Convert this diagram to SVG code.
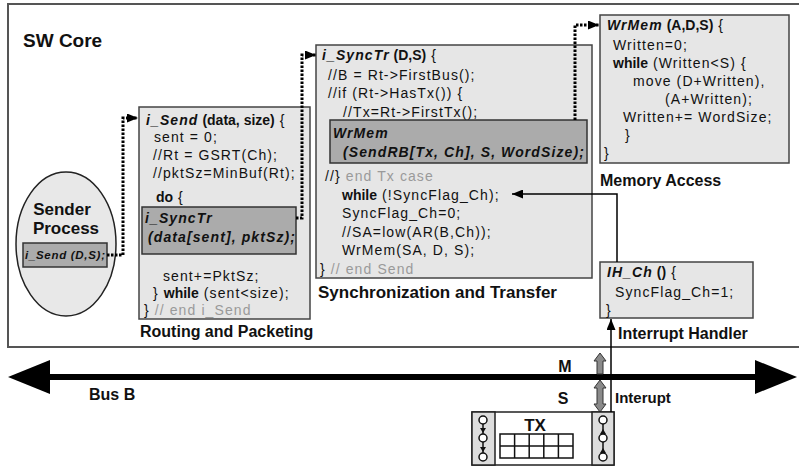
<svg xmlns="http://www.w3.org/2000/svg" width="799" height="468" viewBox="0 0 799 468">
<defs>
<style>
text{font-family:"Liberation Sans",Arial,sans-serif;fill:#111}
.code{font-size:14px;letter-spacing:1.1px}
.b{font-weight:bold}
.bi{font-weight:bold;font-style:italic}
.cm{fill:#9a9a9a}
.lbl{font-size:16px;font-weight:bold;letter-spacing:0}
.box{fill:#e6e6e6;stroke:#444;stroke-width:1.5}
.inner{fill:#ababab;stroke:#333;stroke-width:1.5}
.dot{fill:none;stroke:#000;stroke-width:3;stroke-dasharray:2.5 1.5}
.sol{fill:none;stroke:#000;stroke-width:1.5}
.garr{fill:#8a8a8a;stroke:#333;stroke-width:1}
.circ{fill:#fff;stroke:#111;stroke-width:1.5}
</style>
<marker id="ah" markerUnits="userSpaceOnUse" markerWidth="11" markerHeight="9" refX="11" refY="4.5" orient="auto">
<path d="M0,0 L11,4.5 L0,9 z" fill="#000"/>
</marker>
</defs>
<rect width="799" height="468" fill="#fff"/>

<g id="sw-core">
<rect x="8" y="4" width="800" height="343" fill="#fff" stroke="#555" stroke-width="2"/>
<text x="23" y="47" style="font-size:19px;font-weight:bold">SW Core</text>
</g>

<g id="sender-process">
<ellipse cx="66" cy="244" rx="50" ry="72" fill="#e8e8e8" stroke="#222" stroke-width="1.5"/>
<text x="62" y="215" text-anchor="middle" style="font-size:17px;font-weight:bold">Sender</text>
<text x="66" y="234" text-anchor="middle" style="font-size:17px;font-weight:bold">Process</text>
<rect class="inner" x="23" y="243" width="84" height="24"/>
<text x="25" y="259" class="bi" style="font-size:11.5px;letter-spacing:0.7px">i_Send (D,S);</text>
</g>

<g id="routing-packeting">
<rect class="box" x="139" y="107" width="171" height="212"/>
<text class="code" x="146" y="125"><tspan class="bi">i_Send</tspan><tspan class="b" letter-spacing="0"> (data, size)</tspan> {</text>
<text class="code" x="154" y="142">sent = 0;</text>
<text class="code" x="153" y="160">//Rt = GSRT(Ch);</text>
<text class="code" x="153" y="178">//pktSz=MinBuf(Rt);</text>
<text class="code" x="156" y="202"><tspan class="b" letter-spacing="0">do</tspan> {</text>
<rect class="inner" x="142" y="207" width="154" height="47"/>
<text class="code bi" x="145" y="223">i_SyncTr</text>
<text class="code bi" x="148" y="242">(data[sent], pktSz);</text>
<text class="code" x="163" y="281">sent+=PktSz;</text>
<text class="code" x="153" y="298">} <tspan class="b" letter-spacing="0">while</tspan> (sent&lt;size);</text>
<text class="code" x="144" y="315">} <tspan class="cm">// end i_Send</tspan></text>
<text class="lbl" x="140" y="337">Routing and Packeting</text>
</g>

<g id="sync-transfer">
<rect class="box" x="316" y="45" width="276" height="233"/>
<text class="code" x="322" y="60"><tspan class="bi">i_SyncTr</tspan><tspan class="b" letter-spacing="0"> (D,S)</tspan> {</text>
<text class="code" x="328" y="80">//B = Rt-&gt;FirstBus();</text>
<text class="code" x="328" y="98">//if (Rt-&gt;HasTx()) {</text>
<text class="code" x="343" y="117">//Tx=Rt-&gt;FirstTx();</text>
<rect class="inner" x="330" y="120" width="257" height="43"/>
<text class="code bi" x="333" y="138">WrMem</text>
<text class="code bi" x="343" y="157">(SendRB[Tx, Ch], S, WordSize);</text>
<text class="code" x="325" y="181">//} <tspan class="cm">end Tx case</tspan></text>
<text class="code" x="342" y="200"><tspan class="b" letter-spacing="0">while</tspan> (!SyncFlag_Ch);</text>
<text class="code" x="342" y="218">SyncFlag_Ch=0;</text>
<text class="code" x="342" y="237">//SA=low(AR(B,Ch));</text>
<text class="code" x="342" y="255">WrMem(SA, D, S);</text>
<text class="code" x="320" y="274">} <tspan class="cm">// end Send</tspan></text>
<text class="lbl" x="318" y="298" style="font-size:17px">Synchronization and Transfer</text>
</g>

<g id="memory-access">
<rect class="box" x="600" y="15" width="189" height="148"/>
<text class="code" x="607" y="30"><tspan class="bi">WrMem</tspan><tspan class="b" letter-spacing="0"> (A,D,S)</tspan> {</text>
<text class="code" x="613" y="50">Written=0;</text>
<text class="code" x="613" y="68"><tspan class="b" letter-spacing="0">while</tspan> (Written&lt;S) {</text>
<text class="code" x="633" y="86">move (D+Written),</text>
<text class="code" x="665" y="104">(A+Written);</text>
<text class="code" x="623" y="122">Written+= WordSize;</text>
<text class="code" x="625" y="140">}</text>
<text class="code" x="604" y="158">}</text>
<text class="lbl" x="600" y="186">Memory Access</text>
</g>

<g id="interrupt-handler">
<rect class="box" x="600" y="262" width="153" height="56"/>
<text class="code" x="607" y="277"><tspan class="bi">IH_Ch</tspan><tspan class="b" letter-spacing="0"> ()</tspan> {</text>
<text class="code" x="615" y="297">SyncFlag_Ch=1;</text>
<text class="code" x="606" y="315">}</text>
<text class="lbl" x="618" y="339">Interrupt Handler</text>
</g>

<g id="bus">
<line x1="40" y1="377" x2="765" y2="377" stroke="#000" stroke-width="6"/>
<polygon points="8,377 50,360 50,394" fill="#000"/>
<polygon points="797,377 755,360 755,394" fill="#000"/>
<text class="lbl" x="89" y="400">Bus B</text>
<text class="lbl" x="565" y="372" text-anchor="middle">M</text>
<text class="lbl" x="563" y="404" text-anchor="middle">S</text>
<text class="lbl" x="615" y="403" style="font-size:15px">Interupt</text>
<polygon class="garr" points="600,353 606,361 603,361 603,374 597,374 597,361 594,361"/>
<polygon class="garr" points="600,380 606,388 603,388 603,404 606,404 600,412 594,404 597,404 597,388 594,388"/>
</g>

<g id="tx">
<rect x="472" y="412" width="142" height="53" fill="#fff" stroke="#222" stroke-width="1.5"/>
<rect x="472" y="412" width="23" height="53" fill="#ddd" stroke="#222" stroke-width="1.5"/>
<rect x="592" y="412" width="22" height="53" fill="#ddd" stroke="#222" stroke-width="1.5"/>
<text x="535" y="431" text-anchor="middle" style="font-size:17px;font-weight:bold">TX</text>
<g fill="none" stroke="#111" stroke-width="1.5">
<rect x="500" y="434" width="73" height="24"/>
<line x1="500" y1="446" x2="573" y2="446"/>
<line x1="514.6" y1="434" x2="514.6" y2="458"/>
<line x1="529.2" y1="434" x2="529.2" y2="458"/>
<line x1="543.8" y1="434" x2="543.8" y2="458"/>
<line x1="558.4" y1="434" x2="558.4" y2="458"/>
<line x1="483" y1="424" x2="483" y2="453"/>
<line x1="603" y1="424" x2="603" y2="453"/>
</g>
<polygon points="480,428 486,428 483,433" fill="#111"/>
<polygon points="480,447 486,447 483,452" fill="#111"/>
<polygon points="600,434 606,434 603,429" fill="#111"/>
<polygon points="600,453 606,453 603,448" fill="#111"/>
<circle class="circ" cx="483" cy="420" r="4"/>
<circle class="circ" cx="483" cy="438" r="4"/>
<circle class="circ" cx="483" cy="457" r="4"/>
<circle class="circ" cx="603" cy="420" r="4"/>
<circle class="circ" cx="603" cy="438" r="4"/>
<circle class="circ" cx="603" cy="457" r="4"/>
</g>

<g id="connectors">
<path class="dot" d="M107,255 H123 V118 H138" marker-end="url(#ah)"/>
<path class="dot" d="M296,218 H302 V55 H316" marker-end="url(#ah)"/>
<path class="dot" d="M575,120 V25 H599" marker-end="url(#ah)"/>
<path class="sol" d="M617,262 V194 H512" marker-end="url(#ah)"/>
<path class="sol" d="M611,412 V319" marker-end="url(#ah)"/>
</g>
</svg>
